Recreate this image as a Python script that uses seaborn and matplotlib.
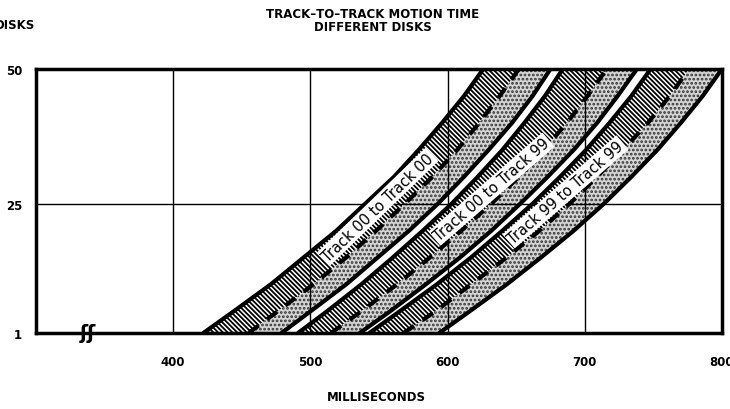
import numpy as np
import pandas as pd
import matplotlib as mpl
mpl.use('Agg')  # no display here
import matplotlib.pyplot as plt
from matplotlib.transforms import blended_transform_factory
import seaborn as sns

# ============================================ #
# values
# ============================================ #

disks = [1, 5, 10, 15, 20, 25, 30, 35, 40, 45, 50]

# each band: left edge, dashed middle line, right edge (milliseconds)
t00_00_left = [422, 444, 471, 495, 519, 540, 561, 579, 596, 612, 626]
t00_00_mid = [455, 476, 502, 526, 548, 569, 589, 607, 623, 638, 652]
t00_00_right = [479, 500, 526, 549, 572, 593, 612, 630, 647, 662, 675]

t00_99_left = [491, 512, 537, 560, 582, 603, 622, 640, 656, 671, 684]
t00_99_mid = [515, 537, 563, 587, 610, 632, 652, 670, 687, 702, 716]
t00_99_right = [536, 558, 584, 609, 632, 653, 673, 692, 709, 724, 738]

t99_99_left = [543, 565, 592, 617, 640, 662, 682, 701, 718, 734, 748]
t99_99_mid = [568, 591, 617, 643, 667, 689, 709, 728, 746, 762, 776]
t99_99_right = [594, 616, 643, 668, 692, 714, 734, 753, 770, 786, 800]

band_names = ['Track 00 to Track 00', 'Track 00 to Track 99', 'Track 99 to Track 99']
x_ticks = [400, 500, 600, 700, 800]
y_ticks = [1, 25, 50]

# ============================================ #
# style
# ============================================ #

sns.set_style('white')
plt.rcParams['font.family'] = ['DejaVu Sans']
plt.rcParams['text.color'] = 'black'
plt.rcParams['xtick.labelcolor'] = 'black'
plt.rcParams['ytick.labelcolor'] = 'black'
plt.rcParams['hatch.linewidth'] = 1.3

bands = pd.DataFrame({
    'disks': disks * 3,
    'band': np.repeat(band_names, len(disks)),
    'left': t00_00_left + t00_99_left + t99_99_left,
    'mid': t00_00_mid + t00_99_mid + t99_99_mid,
    'right': t00_00_right + t00_99_right + t99_99_right,
})

fig = plt.figure(figsize=(7.3, 4.1), dpi=100)
ax = fig.add_axes([0.0493, 0.1854, 0.9397, 0.6439])

for name in band_names:
    d = bands[bands['band'] == name]
    # dark hatched strip between left edge and dashed line
    ax.fill_betweenx(d['disks'], d['left'], d['mid'], facecolor='white',
                     edgecolor='black', hatch='\\' * 7, linewidth=0, zorder=1)
    # light stipple between dashed line and right edge
    ax.fill_betweenx(d['disks'], d['mid'], d['right'], facecolor='#d4d4d4',
                     edgecolor='#333333', hatch='.' * 4, linewidth=0, zorder=1)
    for col in ['left', 'right']:
        sns.lineplot(data=d, x=col, y='disks', estimator=None, sort=False,
                     color='black', linewidth=3, ax=ax, zorder=4)
    sns.lineplot(data=d, x='mid', y='disks', estimator=None, sort=False,
                 color='black', linewidth=3, linestyle=(0, (3, 2.5)), ax=ax, zorder=4)

# thin grid drawn over the bands
for xv in x_ticks[:-1]:
    ax.axvline(xv, color='black', lw=1, zorder=3)
ax.axhline(25, color='black', lw=1, zorder=3)

# band labels sit on the hatched strip
label_pos = [(549, 24.4, 44), (632, 27.7, 41), (686, 27.2, 41)]
for name, (lx, ly, rot) in zip(band_names, label_pos):
    ax.text(lx, ly, name, rotation=rot, rotation_mode='anchor', ha='center',
            va='center', fontsize=10.5, zorder=5,
            bbox=dict(boxstyle='square,pad=0.12', fc='white', ec='none'))

ax.set_xlim(300, 800)
ax.set_ylim(1, 50)
ax.set_xticks(x_ticks)
ax.set_yticks(y_ticks)
ax.tick_params(axis='x', length=0, pad=16, labelsize=8.5)
ax.tick_params(axis='y', length=0, pad=10, labelsize=8.5)
for lab in ax.get_xticklabels() + ax.get_yticklabels():
    lab.set_fontweight('bold')
ax.set_xlabel('')
ax.set_ylabel('')
for sp in ax.spines.values():
    sp.set_linewidth(2.5)
    sp.set_color('black')
    sp.set_zorder(6)

# axis break mark
trans = blended_transform_factory(ax.transData, ax.transAxes)
ax.text(338, 0, '\u0283\u0283', transform=trans, ha='center', va='center',
        fontsize=14, fontweight='bold', zorder=7, clip_on=False)

fig.text(0.511, 0.965, 'TRACK\u2013TO\u2013TRACK MOTION TIME', ha='center', va='center',
         fontsize=8.5, fontweight='bold')
fig.text(0.511, 0.933, 'DIFFERENT DISKS', ha='center', va='center',
         fontsize=8.5, fontweight='bold')
fig.text(-0.007, 0.937, 'DISKS', ha='left', va='center', fontsize=8.5, fontweight='bold')
fig.text(0.515, 0.03, 'MILLISECONDS', ha='center', va='center', fontsize=8.5,
         fontweight='bold')

fig.savefig('out.png', dpi=100)
